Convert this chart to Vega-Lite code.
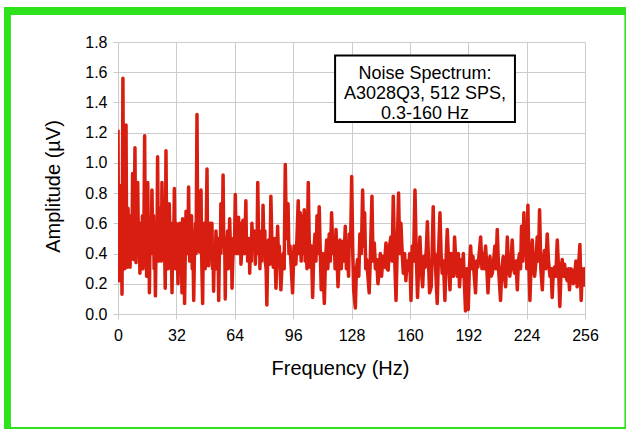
{
  "$schema": "https://vega.github.io/schema/vega-lite/v6.json",
  "width": 467,
  "height": 272,
  "autosize": "none",
  "padding": {"left": 118, "top": 42, "right": 41, "bottom": 115},
  "background": "white",
  "data": {"values": [{}]},
  "config": {
    "view": {"stroke": null},
    "font": "Liberation Sans",
    "axis": {
      "grid": true,
      "gridColor": "#cccccc",
      "gridWidth": 1,
      "tickColor": "#cccccc",
      "tickSize": 5,
      "domain": false,
      "labelOverlap": false,
      "labelFlush": false,
      "labelFont": "Liberation Sans",
      "labelFontSize": 16,
      "labelColor": "#000000",
      "titleFont": "Liberation Sans",
      "titleFontSize": 20,
      "titleFontWeight": "normal",
      "titleColor": "#000000"
    }
  },
  "layer": [
    {
      "data": {"values": [
        {"f":0,"a":1.22},{"f":0.3,"a":0.3},{"f":0.6,"a":0.22},{"f":0.9,"a":0.85},{"f":1.2,"a":0.5},{"f":1.5,"a":0.35},{"f":1.8,"a":0.7},{"f":2.2,"a":0.13},{"f":2.7,"a":1.56},{"f":3.0,"a":0.6},
        {"f":3.2,"a":0.45},{"f":3.5,"a":0.9},{"f":3.7,"a":0.3},{"f":4.0,"a":0.6},{"f":4.4,"a":1.25},{"f":4.7,"a":0.5},{"f":5.0,"a":0.31},{"f":5.3,"a":0.55},{"f":5.5,"a":0.7},{"f":5.8,"a":0.5},
        {"f":6.0,"a":0.45},{"f":6.3,"a":0.65},{"f":6.6,"a":0.31},{"f":6.9,"a":0.5},{"f":7.2,"a":0.62},{"f":7.6,"a":0.4},{"f":8.0,"a":0.93},{"f":8.3,"a":0.55},{"f":8.5,"a":0.36},{"f":8.9,"a":0.6},
        {"f":9.3,"a":1.1},{"f":9.6,"a":0.5},{"f":9.9,"a":0.34},{"f":10.2,"a":0.55},{"f":10.4,"a":0.62},{"f":10.6,"a":0.45},{"f":10.8,"a":0.87},{"f":11.1,"a":0.55},{"f":11.4,"a":0.4},{"f":11.7,"a":0.6},
        {"f":12.0,"a":0.27},{"f":12.3,"a":0.45},{"f":12.5,"a":0.6},{"f":12.8,"a":0.35},{"f":13.1,"a":0.45},{"f":13.4,"a":0.65},{"f":13.7,"a":0.3},{"f":14.2,"a":0.55},{"f":14.6,"a":1.18},{"f":14.9,"a":0.6},
        {"f":15.1,"a":0.5},{"f":15.4,"a":0.7},{"f":15.7,"a":0.25},{"f":16.0,"a":0.55},{"f":16.3,"a":0.87},{"f":16.6,"a":0.5},{"f":16.8,"a":0.4},{"f":17.0,"a":0.6},{"f":17.2,"a":0.14},{"f":17.5,"a":0.45},
        {"f":17.8,"a":0.55},{"f":18.2,"a":0.4},{"f":18.6,"a":0.82},{"f":18.9,"a":0.6},{"f":19.2,"a":0.45},{"f":19.5,"a":0.65},{"f":19.8,"a":0.3},{"f":20.2,"a":0.5},{"f":20.5,"a":0.12},{"f":20.8,"a":0.4},
        {"f":21.1,"a":0.6},{"f":21.4,"a":0.45},{"f":21.7,"a":1.04},{"f":22.0,"a":0.6},{"f":22.3,"a":0.35},{"f":22.6,"a":0.55},{"f":22.9,"a":0.7},{"f":23.2,"a":0.4},{"f":23.5,"a":0.5},{"f":23.8,"a":0.35},
        {"f":24.1,"a":0.87},{"f":24.4,"a":0.6},{"f":24.7,"a":0.45},{"f":25.0,"a":0.7},{"f":25.3,"a":0.6},{"f":25.6,"a":0.4},{"f":25.9,"a":0.17},{"f":26.3,"a":1.08},{"f":26.6,"a":0.6},{"f":26.9,"a":0.45},
        {"f":27.2,"a":0.65},{"f":27.5,"a":0.3},{"f":27.8,"a":0.5},{"f":28.1,"a":0.73},{"f":28.4,"a":0.55},{"f":28.7,"a":0.4},{"f":29.1,"a":0.6},{"f":29.6,"a":0.14},{"f":29.9,"a":0.4},{"f":30.2,"a":0.55},
        {"f":30.5,"a":0.45},{"f":30.9,"a":0.83},{"f":31.2,"a":0.5},{"f":31.5,"a":0.3},{"f":31.9,"a":0.6},{"f":32.3,"a":0.49},{"f":32.6,"a":0.35},{"f":32.9,"a":0.2},{"f":33.2,"a":0.5},{"f":33.5,"a":0.42},
        {"f":33.8,"a":0.6},{"f":34.2,"a":0.3},{"f":34.6,"a":0.45},{"f":35.1,"a":0.14},{"f":35.4,"a":0.63},{"f":35.7,"a":0.4},{"f":36.0,"a":0.55},{"f":36.5,"a":0.07},{"f":36.9,"a":0.45},{"f":37.3,"a":0.68},
        {"f":37.6,"a":0.45},{"f":37.9,"a":0.6},{"f":38.3,"a":0.4},{"f":38.7,"a":0.84},{"f":39.0,"a":0.5},{"f":39.3,"a":0.35},{"f":39.6,"a":0.6},{"f":40.0,"a":0.49},{"f":40.3,"a":0.65},{"f":40.7,"a":0.3},
        {"f":41.1,"a":0.45},{"f":41.5,"a":0.09},{"f":41.9,"a":0.4},{"f":42.2,"a":0.5},{"f":42.5,"a":0.6},{"f":42.8,"a":0.4},{"f":43.3,"a":1.32},{"f":43.6,"a":0.7},{"f":43.9,"a":0.55},{"f":44.2,"a":0.65},
        {"f":44.6,"a":0.41},{"f":45.0,"a":0.6},{"f":45.5,"a":0.82},{"f":45.8,"a":0.45},{"f":46.0,"a":0.3},{"f":46.4,"a":0.07},{"f":46.8,"a":0.55},{"f":47.1,"a":0.45},{"f":47.4,"a":0.6},{"f":47.8,"a":0.3},
        {"f":48.3,"a":0.5},{"f":48.8,"a":0.96},{"f":49.0,"a":0.6},{"f":49.3,"a":0.5},{"f":49.7,"a":0.32},{"f":50.1,"a":0.45},{"f":50.5,"a":0.6},{"f":50.8,"a":0.4},{"f":51.2,"a":0.46},{"f":51.5,"a":0.6},
        {"f":51.8,"a":0.3},{"f":52.1,"a":0.45},{"f":52.4,"a":0.15},{"f":52.7,"a":0.35},{"f":53.0,"a":0.4},{"f":53.3,"a":0.3},{"f":53.7,"a":0.55},{"f":54.0,"a":0.45},{"f":54.4,"a":0.3},{"f":54.8,"a":0.5},
        {"f":55.2,"a":0.09},{"f":55.5,"a":0.35},{"f":55.8,"a":0.5},{"f":56.1,"a":0.4},{"f":56.4,"a":0.73},{"f":56.7,"a":0.55},{"f":57.0,"a":0.45},{"f":57.3,"a":0.6},{"f":57.6,"a":0.92},{"f":57.9,"a":0.55},
        {"f":58.2,"a":0.4},{"f":58.5,"a":0.5},{"f":58.8,"a":0.1},{"f":59.0,"a":0.35},{"f":59.3,"a":0.5},{"f":59.5,"a":0.35},{"f":59.7,"a":0.44},{"f":60.1,"a":0.55},{"f":60.5,"a":0.3},{"f":60.9,"a":0.45},
        {"f":61.2,"a":0.63},{"f":61.5,"a":0.5},{"f":61.8,"a":0.35},{"f":62.2,"a":0.5},{"f":62.5,"a":0.17},{"f":62.9,"a":0.35},{"f":63.4,"a":0.5},{"f":63.8,"a":0.4},{"f":64.3,"a":0.79},{"f":64.7,"a":0.5},
        {"f":65.2,"a":0.4},{"f":65.6,"a":0.55},{"f":66.1,"a":0.64},{"f":66.4,"a":0.4},{"f":66.8,"a":0.45},{"f":67.1,"a":0.6},{"f":67.4,"a":0.33},{"f":68.0,"a":0.45},{"f":68.5,"a":0.62},{"f":68.9,"a":0.45},
        {"f":69.3,"a":0.4},{"f":69.7,"a":0.55},{"f":70.1,"a":0.75},{"f":70.4,"a":0.45},{"f":70.8,"a":0.5},{"f":71.1,"a":0.35},{"f":71.5,"a":0.4},{"f":71.9,"a":0.5},{"f":72.2,"a":0.27},{"f":72.5,"a":0.4},
        {"f":72.8,"a":0.5},{"f":73.1,"a":0.35},{"f":73.4,"a":0.6},{"f":73.8,"a":0.45},{"f":74.3,"a":0.42},{"f":74.8,"a":0.55},{"f":75.3,"a":0.33},{"f":75.6,"a":0.45},{"f":75.9,"a":0.5},{"f":76.2,"a":0.4},
        {"f":76.6,"a":0.87},{"f":77.0,"a":0.55},{"f":77.3,"a":0.45},{"f":77.6,"a":0.55},{"f":77.8,"a":0.3},{"f":78.1,"a":0.5},{"f":78.4,"a":0.45},{"f":78.7,"a":0.35},{"f":79.0,"a":0.55},{"f":79.2,"a":0.4},
        {"f":79.5,"a":0.72},{"f":79.9,"a":0.5},{"f":80.2,"a":0.4},{"f":80.5,"a":0.55},{"f":80.7,"a":0.35},{"f":81.2,"a":0.3},{"f":81.6,"a":0.06},{"f":82.0,"a":0.35},{"f":82.5,"a":0.49},{"f":82.8,"a":0.4},
        {"f":83.2,"a":0.33},{"f":83.5,"a":0.5},
        {"f":83.8,"a":0.78},{"f":84.4,"a":0.45},{"f":85.1,"a":0.31},{"f":85.8,"a":0.5},{"f":86.6,"a":0.17},{"f":87.5,"a":0.58},{"f":88.0,"a":0.35},{"f":88.4,"a":0.45},{"f":89.3,"a":0.16},{"f":90.0,"a":0.35},
        {"f":90.6,"a":0.4},{"f":91.1,"a":0.3},{"f":91.7,"a":0.99},{"f":92.3,"a":0.5},{"f":93.2,"a":0.73},{"f":93.7,"a":0.4},{"f":94.3,"a":0.45},{"f":95.0,"a":0.3},{"f":95.7,"a":0.14},{"f":96.5,"a":0.45},
        {"f":97.5,"a":0.33},{"f":98.1,"a":0.5},{"f":98.8,"a":0.75},{"f":99.3,"a":0.4},{"f":99.9,"a":0.67},{"f":100.4,"a":0.35},{"f":100.8,"a":0.65},{"f":101.5,"a":0.4},{"f":102.1,"a":0.69},{"f":102.6,"a":0.35},
        {"f":103.0,"a":0.47},{"f":103.6,"a":0.3},{"f":104.3,"a":0.87},{"f":104.8,"a":0.5},{"f":105.4,"a":0.31},{"f":106.0,"a":0.45},{"f":106.7,"a":0.11},{"f":107.3,"a":0.4},{"f":108.0,"a":0.53},{"f":108.5,"a":0.35},
        {"f":109.1,"a":0.65},{"f":109.7,"a":0.4},{"f":110.3,"a":0.71},{"f":110.8,"a":0.45},{"f":111.4,"a":0.16},{"f":112.2,"a":0.4},{"f":113.1,"a":0.07},{"f":113.7,"a":0.35},{"f":114.4,"a":0.49},{"f":115.0,"a":0.3},
        {"f":115.8,"a":0.53},{"f":116.4,"a":0.35},{"f":117.1,"a":0.67},{"f":117.8,"a":0.4},{"f":118.6,"a":0.49},{"f":119.0,"a":0.3},{"f":119.5,"a":0.56},{"f":120.0,"a":0.4},{"f":120.6,"a":0.18},{"f":121.2,"a":0.35},
        {"f":121.7,"a":0.49},{"f":122.4,"a":0.3},{"f":123.1,"a":0.48},{"f":123.8,"a":0.35},{"f":124.6,"a":0.58},{"f":125.2,"a":0.3},{"f":125.9,"a":0.38},{"f":126.4,"a":0.25},{"f":126.8,"a":0.53},{"f":127.5,"a":0.45},
        {"f":128.1,"a":0.91},{"f":128.7,"a":0.4},{"f":129.2,"a":0.16},{"f":130.1,"a":0.04},{"f":130.7,"a":0.3},{"f":131.3,"a":0.36},{"f":132.0,"a":0.25},{"f":132.6,"a":0.53},{"f":133.4,"a":0.4},{"f":134.1,"a":0.82},
        {"f":134.7,"a":0.45},{"f":135.2,"a":0.67},{"f":135.8,"a":0.3},{"f":136.3,"a":0.36},{"f":137.0,"a":0.25},{"f":137.7,"a":0.14},{"f":138.4,"a":0.4},{"f":139.2,"a":0.78},{"f":139.8,"a":0.35},{"f":140.5,"a":0.47},
        {"f":141.1,"a":0.3},{"f":141.8,"a":0.36},{"f":142.5,"a":0.2},{"f":143.2,"a":0.29},{"f":143.8,"a":0.4},{"f":144.5,"a":0.25},{"f":145.2,"a":0.38},{"f":146.0,"a":0.31},{"f":146.9,"a":0.47},{"f":147.5,"a":0.3},
        {"f":148.1,"a":0.29},{"f":148.8,"a":0.45},{"f":149.6,"a":0.51},{"f":150.3,"a":0.35},{"f":150.9,"a":0.78},{"f":151.6,"a":0.4},{"f":152.4,"a":0.09},{"f":153.1,"a":0.45},{"f":153.8,"a":0.8},{"f":154.4,"a":0.4},
        {"f":155.1,"a":0.6},{"f":155.8,"a":0.4},{"f":156.4,"a":0.27},{"f":157.1,"a":0.4},{"f":157.8,"a":0.22},{"f":158.5,"a":0.35},{"f":159.3,"a":0.29},{"f":159.9,"a":0.4},{"f":160.6,"a":0.09},{"f":161.3,"a":0.45},
        {"f":162.0,"a":0.35},{"f":162.8,"a":0.82},{"f":163.5,"a":0.4},{"f":164.2,"a":0.11},{"f":164.9,"a":0.35},{"f":165.5,"a":0.51},{"f":166.2,"a":0.3},{"f":167.0,"a":0.18},{"f":167.7,"a":0.38},{"f":168.4,"a":0.31},
        {"f":169.1,"a":0.45},{"f":169.6,"a":0.61},{"f":170.2,"a":0.35},{"f":170.8,"a":0.14},{"f":171.7,"a":0.18},{"f":172.2,"a":0.4},{"f":172.8,"a":0.71},{"f":173.3,"a":0.35},{"f":173.7,"a":0.4},{"f":174.3,"a":0.25},
        {"f":175.0,"a":0.07},{"f":175.7,"a":0.4},{"f":176.5,"a":0.67},{"f":177.1,"a":0.4},{"f":177.7,"a":0.27},{"f":178.4,"a":0.35},{"f":179.2,"a":0.09},{"f":179.8,"a":0.35},{"f":180.5,"a":0.56},{"f":181.2,"a":0.35},
        {"f":182.0,"a":0.16},{"f":182.6,"a":0.4},{"f":183.2,"a":0.33},{"f":183.9,"a":0.25},{"f":184.5,"a":0.51},{"f":185.2,"a":0.35},{"f":186.0,"a":0.25},{"f":186.6,"a":0.4},{"f":187.2,"a":0.18},{"f":187.8,"a":0.3},
        {"f":188.3,"a":0.36},{"f":188.8,"a":0.25},{"f":189.3,"a":0.4},{"f":189.9,"a":0.2},{"f":190.5,"a":0.02},{"f":191.2,"a":0.3},{"f":192.0,"a":0.03},{"f":192.6,"a":0.3},{"f":193.3,"a":0.45},{"f":194.0,"a":0.3},
        {"f":194.6,"a":0.38},{"f":195.3,"a":0.25},{"f":196.0,"a":0.14},{"f":196.6,"a":0.35},{"f":197.3,"a":0.31},{"f":198.0,"a":0.4},{"f":198.8,"a":0.51},{"f":199.5,"a":0.3},{"f":200.2,"a":0.4},{"f":200.8,"a":0.3},
        {"f":201.5,"a":0.45},{"f":202.2,"a":0.3},{"f":202.8,"a":0.14},{"f":203.4,"a":0.3},{"f":203.9,"a":0.38},{"f":204.6,"a":0.25},{"f":205.2,"a":0.27},{"f":205.9,"a":0.35},{"f":206.6,"a":0.45},{"f":207.2,"a":0.3},
        {"f":207.9,"a":0.56},{"f":208.6,"a":0.3},{"f":209.7,"a":0.09},{"f":210.4,"a":0.3},{"f":211.2,"a":0.38},{"f":211.8,"a":0.25},{"f":212.5,"a":0.18},{"f":213.0,"a":0.35},{"f":213.4,"a":0.51},{"f":214.1,"a":0.3},
        {"f":214.8,"a":0.25},{"f":215.5,"a":0.35},{"f":216.1,"a":0.49},{"f":216.8,"a":0.3},{"f":217.4,"a":0.27},{"f":218.2,"a":0.35},{"f":218.9,"a":0.16},{"f":219.5,"a":0.35},{"f":220.1,"a":0.4},{"f":220.7,"a":0.3},
        {"f":221.2,"a":0.58},{"f":221.9,"a":0.35},{"f":222.5,"a":0.67},{"f":223.0,"a":0.4},{"f":223.6,"a":0.51},{"f":224.1,"a":0.3},{"f":224.7,"a":0.72},{"f":225.2,"a":0.35},{"f":225.8,"a":0.09},{"f":226.5,"a":0.35},
        {"f":227.1,"a":0.49},{"f":227.8,"a":0.3},{"f":228.4,"a":0.25},{"f":229.1,"a":0.35},{"f":229.8,"a":0.51},{"f":230.5,"a":0.35},{"f":231.1,"a":0.69},{"f":231.8,"a":0.3},{"f":232.6,"a":0.16},{"f":233.2,"a":0.35},
        {"f":233.8,"a":0.42},{"f":234.5,"a":0.3},{"f":235.3,"a":0.53},{"f":236.0,"a":0.35},{"f":236.8,"a":0.25},{"f":237.4,"a":0.3},{"f":238.0,"a":0.11},{"f":238.7,"a":0.3},{"f":239.3,"a":0.31},{"f":240.0,"a":0.25},
        {"f":240.8,"a":0.49},{"f":241.5,"a":0.3},{"f":242.2,"a":0.05},{"f":242.9,"a":0.3},{"f":243.5,"a":0.36},{"f":244.2,"a":0.25},{"f":244.8,"a":0.33},{"f":245.5,"a":0.25},{"f":246.3,"a":0.22},{"f":246.9,"a":0.3},
        {"f":247.5,"a":0.16},{"f":248.2,"a":0.3},{"f":249.0,"a":0.29},{"f":249.6,"a":0.2},{"f":250.3,"a":0.25},{"f":251.0,"a":0.35},{"f":251.7,"a":0.18},{"f":252.4,"a":0.3},{"f":253.2,"a":0.46},{"f":253.9,"a":0.09},
        {"f":254.5,"a":0.3},{"f":255.0,"a":0.22},{"f":255.6,"a":0.3},{"f":256.0,"a":0.18}
      ]},
      "mark": {"type": "line", "color": "#d81e10", "strokeWidth": 3.5, "strokeJoin": "round", "clip": true},
      "encoding": {
        "x": {"field": "f", "type": "quantitative",
          "scale": {"domain": [0, 256], "nice": false, "zero": false},
          "axis": {"values": [0, 32, 64, 96, 128, 160, 192, 224, 256], "labelOverlap": false, "labelFlush": false, "title": "Frequency (Hz)", "labelPadding": 8, "titleX": 222, "titleY": 60, "titleBaseline": "alphabetic", "titleAnchor": "middle"}},
        "y": {"field": "a", "type": "quantitative",
          "scale": {"domain": [0, 1.8], "nice": false, "zero": false},
          "axis": {"values": [0, 0.2, 0.4, 0.6, 0.8, 1.0, 1.2, 1.4, 1.6, 1.8], "tickCount": 10, "labelOverlap": false, "labelFlush": false, "labelBound": false, "format": ".1f", "title": "Amplitude (µV)", "labelPadding": 6, "titleX": -59, "titleY": 144, "titleBaseline": "alphabetic", "titleAnchor": "middle"}}
      }
    },
    {
      "mark": {"type": "rect", "color": "#2ee21c"},
      "encoding": {
        "x": {"datum": -62.5, "type": "quantitative"},
        "x2": {"datum": 278.5},
        "y": {"datum": 2.0316, "type": "quantitative", "axis": {"values": [0, 0.2, 0.4, 0.6, 0.8, 1.0, 1.2, 1.4, 1.6, 1.8], "tickCount": 10, "labelOverlap": false}},
        "y2": {"datum": 1.9787}
      }
    },
    {
      "mark": {"type": "rect", "color": "#2ee21c"},
      "encoding": {
        "x": {"datum": -62.5, "type": "quantitative"},
        "x2": {"datum": -58.7},
        "y": {"datum": 2.0316, "type": "quantitative", "axis": {"values": [0, 0.2, 0.4, 0.6, 0.8, 1.0, 1.2, 1.4, 1.6, 1.8], "tickCount": 10, "labelOverlap": false}},
        "y2": {"datum": -0.761}
      }
    },
    {
      "mark": {"type": "rect", "color": "#2ee21c"},
      "encoding": {
        "x": {"datum": -62.5, "type": "quantitative"},
        "x2": {"datum": 278.5},
        "y": {"datum": -0.7478, "type": "quantitative", "axis": {"values": [0, 0.2, 0.4, 0.6, 0.8, 1.0, 1.2, 1.4, 1.6, 1.8], "tickCount": 10, "labelOverlap": false}},
        "y2": {"datum": -0.761}
      }
    },
    {
      "mark": {"type": "rect", "color": "#2ee21c"},
      "encoding": {
        "x": {"datum": 277.6, "type": "quantitative"},
        "x2": {"datum": 278.5},
        "y": {"datum": 2.0316, "type": "quantitative", "axis": {"values": [0, 0.2, 0.4, 0.6, 0.8, 1.0, 1.2, 1.4, 1.6, 1.8], "tickCount": 10, "labelOverlap": false}},
        "y2": {"datum": -0.761}
      }
    },
    {
      "mark": {"type": "rect", "fill": "white", "stroke": "black", "strokeWidth": 2},
      "encoding": {
        "x": {"datum": 119.0, "type": "quantitative"},
        "x2": {"datum": 217.6},
        "y": {"datum": 1.711, "type": "quantitative", "axis": {"values": [0, 0.2, 0.4, 0.6, 0.8, 1.0, 1.2, 1.4, 1.6, 1.8], "tickCount": 10, "labelOverlap": false}},
        "y2": {"datum": 1.2706}
      }
    },
    {
      "mark": {"type": "text", "text": ["Noise Spectrum:", "A3028Q3, 512 SPS,", "0.3-160 Hz"], "font": "Liberation Sans", "fontSize": 18, "lineHeight": 20, "align": "center", "baseline": "middle", "color": "black"},
      "encoding": {
        "x": {"datum": 168.3, "type": "quantitative"},
        "y": {"datum": 1.59, "type": "quantitative", "axis": {"values": [0, 0.2, 0.4, 0.6, 0.8, 1.0, 1.2, 1.4, 1.6, 1.8], "tickCount": 10, "labelOverlap": false}}
      }
    }
  ]
}
